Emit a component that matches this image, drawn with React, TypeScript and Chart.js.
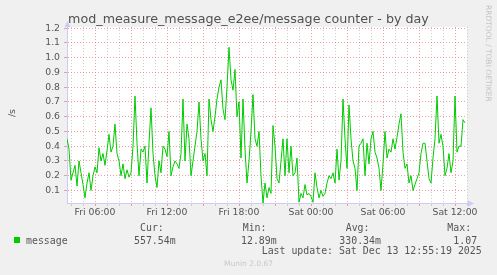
import React, { useEffect, useRef } from 'react';
import { Chart, registerables } from 'chart.js';

Chart.register(...registerables);

// time axis: minutes since Fri 00:00
const X_MIN = 220; // Fri 03:40
const X_MAX = 2220; // Sat 13:00
const SAMPLE_START = 220;
const SAMPLE_STEP = 10;
const Y_MIN = 0.015;
const Y_MAX = 1.208;

const xTickMinutes = [360, 720, 1080, 1440, 1800, 2160];
const xTickLabels = ['Fri 06:00', 'Fri 12:00', 'Fri 18:00', 'Sat 00:00', 'Sat 06:00', 'Sat 12:00'];

const seriesName = 'message';
const messageValues = [
  0.45, 0.38, 0.17, 0.22, 0.27, 0.13, 0.30, 0.22, 0.14, 0.05,
  0.15, 0.22, 0.10, 0.20, 0.26, 0.22, 0.39, 0.30, 0.35, 0.27,
  0.37, 0.48, 0.36, 0.40, 0.55, 0.35, 0.30, 0.20, 0.28, 0.18,
  0.24, 0.19, 0.22, 0.40, 0.74, 0.42, 0.20, 0.38, 0.36, 0.40,
  0.15, 0.42, 0.66, 0.35, 0.20, 0.12, 0.30, 0.22, 0.40, 0.38,
  0.33,
  0.50, 0.20, 0.26, 0.30, 0.28, 0.25, 0.35, 0.72, 0.30, 0.55,
  0.45, 0.20, 0.30, 0.40, 0.50, 0.70, 0.45, 0.30, 0.35, 0.20,
  0.72, 0.58, 0.50, 0.60, 0.72, 0.80, 0.85, 0.65, 0.58, 0.80,
  1.07, 0.85, 0.78, 0.92, 0.60, 0.70, 0.32, 0.72, 0.38, 0.15,
  0.30, 0.50, 0.75, 0.45, 0.40, 0.50, 0.20, 0.013, 0.15, 0.05,
  0.12, 0.08, 0.54, 0.40, 0.18, 0.15, 0.30, 0.45, 0.20, 0.45,
  0.22, 0.40, 0.20, 0.22, 0.32, 0.02, 0.08, 0.05, 0.14, 0.07,
  0.08, 0.06, 0.02, 0.22, 0.12, 0.05, 0.10, 0.06, 0.08, 0.15,
  0.20, 0.18, 0.22, 0.15, 0.38, 0.17, 0.30, 0.72, 0.45, 0.25,
  0.68, 0.45, 0.30, 0.25, 0.10, 0.40, 0.42, 0.45, 0.20, 0.42,
  0.28, 0.45, 0.50, 0.36, 0.32, 0.25, 0.10, 0.28, 0.50, 0.32,
  0.38, 0.36, 0.45, 0.38, 0.46, 0.55, 0.62, 0.36, 0.25, 0.28,
  0.15, 0.20, 0.10, 0.14, 0.18, 0.22, 0.35, 0.42, 0.42, 0.30,
  0.18, 0.15, 0.32, 0.45, 0.74, 0.42, 0.48, 0.40, 0.20, 0.25,
  0.35, 0.22, 0.30, 0.74, 0.36, 0.40, 0.40, 0.58, 0.558,
];

const statLabels = ['Cur:', 'Min:', 'Avg:', 'Max:'];
const statValues = ['557.54m', '12.89m', '330.34m', '1.07'];
const titleText = 'mod_measure_message_e2ee/message counter - by day';
const yAxisTitle = '/s';
const lastUpdate = 'Last update: Sat Dec 13 12:55:19 2025';
const footer = 'Munin 2.0.67';
const watermark = 'RRDTOOL / TOBI OETIKER';

const GREEN = '#00CC00';
const MAJOR = 'rgba(232,120,120,0.7)';
const MINOR = '#CDCDCD';
const AXIS = '#C8CCF6';
const TEXT = '#555555';
const SANS = "'DejaVu Sans', sans-serif";
const MONO = "'DejaVu Sans Mono', monospace";

const plotBg = {
  id: 'plotBg',
  beforeDraw(chart: any) {
    const { ctx, chartArea } = chart;
    ctx.save();
    ctx.fillStyle = '#FFFFFF';
    ctx.fillRect(chartArea.left, chartArea.top, chartArea.right - chartArea.left, chartArea.bottom - chartArea.top);
    ctx.restore();
  },
};

const axisArrows = {
  id: 'axisArrows',
  afterDraw(chart: any) {
    const { ctx, chartArea } = chart;
    const { left, top, right, bottom } = chartArea;
    ctx.save();
    ctx.fillStyle = AXIS;
    ctx.strokeStyle = AXIS;
    ctx.beginPath();
    ctx.moveTo(right, bottom + 0.5);
    ctx.lineTo(right + 2, bottom + 0.5);
    ctx.stroke();
    ctx.beginPath();
    ctx.moveTo(left + 0.5, top - 6);
    ctx.lineTo(left - 2.5, top);
    ctx.lineTo(left + 3.5, top);
    ctx.closePath();
    ctx.fill();
    ctx.beginPath();
    ctx.moveTo(right + 7, bottom + 0.5);
    ctx.lineTo(right + 1, bottom - 2.5);
    ctx.lineTo(right + 1, bottom + 3.5);
    ctx.closePath();
    ctx.fill();
    ctx.restore();
  },
};

function ChartCanvas() {
  const ref = useRef<HTMLCanvasElement | null>(null);
  useEffect(() => {
    if (!ref.current) return;
    const points = messageValues.map((v, i) => ({ x: SAMPLE_START + i * SAMPLE_STEP, y: v }));
    const chart = new Chart(ref.current, {
      type: 'line',
      data: {
        datasets: [
          {
            label: seriesName,
            data: points,
            borderColor: GREEN,
            borderWidth: 1,
            pointRadius: 0,
            fill: false,
            tension: 0,
          },
        ],
      },
      options: {
        animation: false,
        responsive: false,
        devicePixelRatio: 1,
        events: [],
        layout: { padding: { left: 0, top: 27, right: 30, bottom: 0 } },
        plugins: { legend: { display: false }, tooltip: { enabled: false }, title: { display: false } },
        scales: {
          x: {
            type: 'linear',
            min: X_MIN,
            max: X_MAX,
            afterFit: (s: any) => {
              s.height = 72;
            },
            ticks: {
              stepSize: 60,
              autoSkip: false,
              maxRotation: 0,
              includeBounds: false,
              padding: 1,
              color: TEXT,
              font: { family: SANS, size: 9.3 },
              callback: (v: any) => {
                const idx = xTickMinutes.indexOf(Number(v));
                return idx >= 0 ? xTickLabels[idx] : '';
              },
            },
            grid: {
              color: (c: any) => (c.tick && Math.round(c.tick.value) % 180 === 0 ? MAJOR : MINOR),
              lineWidth: 1,
              tickLength: 3,
            },
            border: { color: AXIS, width: 1, dash: [1, 2] },
          },
          y: {
            min: Y_MIN,
            max: Y_MAX,
            afterFit: (s: any) => {
              s.width = 67;
            },
            ticks: {
              stepSize: 0.1,
              includeBounds: false,
              padding: 4,
              color: TEXT,
              font: { family: SANS, size: 9.3 },
              callback: (v: any) => Number(v).toFixed(1),
            },
            grid: { color: MAJOR, lineWidth: 1, tickLength: 3 },
            border: { color: AXIS, width: 1, dash: [1, 2] },
          },
        },
      },
      plugins: [plotBg, axisArrows],
    });
    return () => chart.destroy();
  }, []);
  return <canvas ref={ref} width={497} height={275} style={{ position: 'absolute', left: 0, top: 0, width: 497, height: 275 }} />;
}

function Txt(props: { left: number; top: number; size: number; family: string; color?: string; children: any; style?: any }) {
  return (
    <div
      style={{
        position: 'absolute',
        left: props.left,
        top: props.top,
        fontFamily: props.family,
        fontSize: props.size,
        lineHeight: 1,
        color: props.color || TEXT,
        whiteSpace: 'pre',
        ...(props.style || {}),
      }}
    >
      {props.children}
    </div>
  );
}

const statLabelLeft = [140, 242.7, 345.7, 447.3];
const statValueLeft = [134, 241, 339.3, 453.3];

export default function App() {
  return (
    <div style={{ position: 'fixed', left: 0, top: 0, width: 497, height: 275, background: '#F0F0F0', overflow: 'hidden' }}>
      <ChartCanvas />
      <div
        style={{
          position: 'absolute',
          left: 0,
          top: 12.75,
          width: 497,
          textAlign: 'center',
          fontFamily: SANS,
          fontSize: 12.7,
          lineHeight: 1,
          color: '#505050',
          whiteSpace: 'pre',
        }}
      >
        {titleText}
      </div>
      <div
        style={{
          position: 'absolute',
          left: 12,
          top: 113,
          transform: 'translate(-50%,-50%) rotate(-90deg)',
          fontFamily: SANS,
          fontSize: 9.5,
          lineHeight: 1,
          color: TEXT,
          whiteSpace: 'pre',
        }}
      >
        {yAxisTitle}
      </div>
      <div
        style={{
          position: 'absolute',
          left: 492.3,
          top: 5,
          transform: 'rotate(90deg)',
          transformOrigin: 'left top',
          fontFamily: SANS,
          fontSize: 7.5,
          lineHeight: 1,
          color: '#C4C4C4',
          whiteSpace: 'pre',
        }}
      >
        {watermark}
      </div>
      <div style={{ position: 'absolute', left: 14, top: 236.5, width: 6, height: 6, background: GREEN }} />
      <Txt left={26} top={235.5} size={9.9} family={MONO}>
        {seriesName}
      </Txt>
      {statLabels.map((l, i) => (
        <Txt key={l} left={statLabelLeft[i]} top={222.6} size={9.9} family={MONO}>
          {l}
        </Txt>
      ))}
      {statValues.map((v, i) => (
        <Txt key={v} left={statValueLeft[i]} top={235.5} size={9.9} family={MONO}>
          {v}
        </Txt>
      ))}
      <Txt left={261.7} top={246.3} size={9.9} family={MONO}>
        {lastUpdate}
      </Txt>
      <div
        style={{
          position: 'absolute',
          left: 0,
          top: 260.2,
          width: 497,
          textAlign: 'center',
          fontFamily: SANS,
          fontSize: 7.5,
          lineHeight: 1,
          color: '#C8C8C8',
          whiteSpace: 'pre',
        }}
      >
        {footer}
      </div>
    </div>
  );
}
